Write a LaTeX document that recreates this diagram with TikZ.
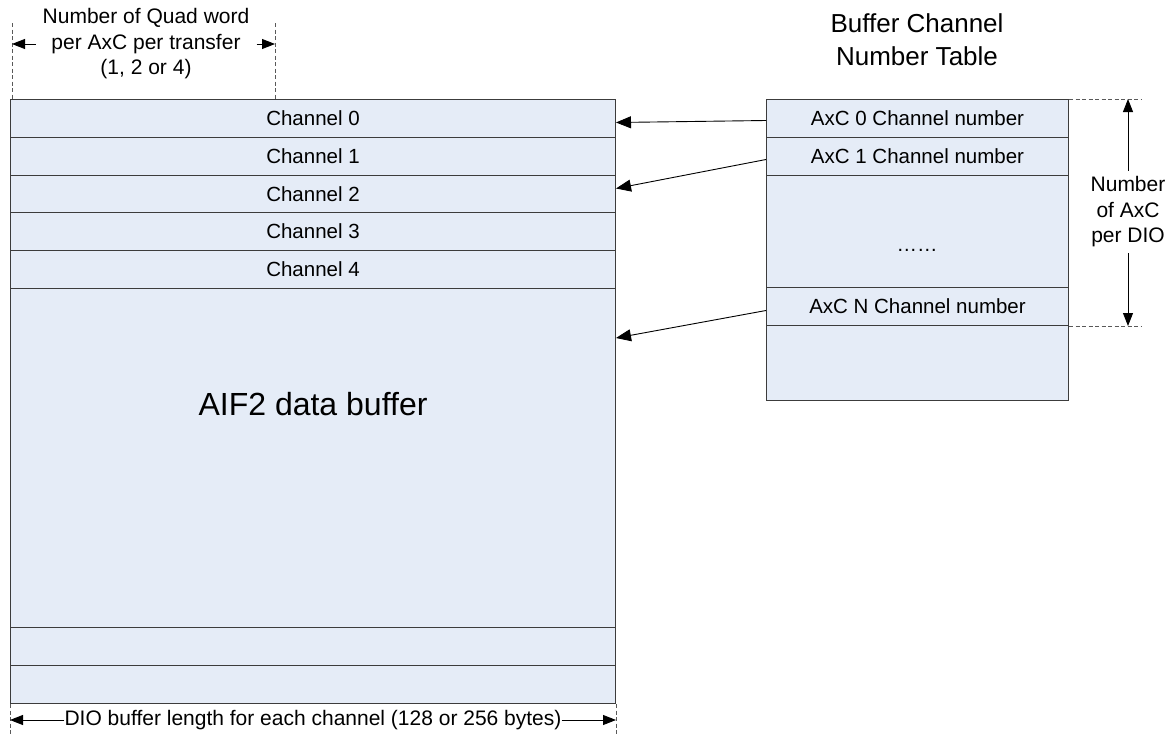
\documentclass[tikz,border=0pt]{standalone}
\usepackage{fontspec}
\setmainfont{Liberation Sans}
\usetikzlibrary{arrows.meta,calc}
\definecolor{cellfill}{RGB}{229,236,247}
\definecolor{cellline}{RGB}{60,60,60}
\begin{document}
\begin{tikzpicture}[x=1pt,y=-1pt,
  cell/.style={draw=cellline, fill=cellfill, line width=1pt, inner sep=0pt, anchor=north west,
               font=\fontsize{20.5}{24}\selectfont},
  lcell/.style={cell, minimum width=605pt},
  rcell/.style={cell, minimum width=302pt},
  conn/.style={line width=0.9pt, -{Triangle[length=15pt,width=12pt]}},
  dimarr/.style={line width=0.9pt, -{Triangle[length=13pt,width=10pt]}},
  ext/.style={draw=black!65, line width=0.8pt, dash pattern=on 4pt off 2.5pt},
  lbl/.style={font=\fontsize{21}{25.5}\selectfont, align=center, inner sep=0pt}]
\useasboundingbox (0,0) rectangle (1170,736);

% left buffer
\node[lcell, minimum height=38pt] (ch0) at (10,99) {Channel 0};
\node[lcell, minimum height=38pt] (ch1) at (10,137) {Channel 1};
\node[lcell, minimum height=37pt] (ch2) at (10,175) {Channel 2};
\node[lcell, minimum height=38pt] (ch3) at (10,212) {Channel 3};
\node[lcell, minimum height=38pt] (ch4) at (10,250) {Channel 4};
\node[lcell, minimum height=339pt] (big) at (10,288) {};
\node[lcell, minimum height=38pt] (r6) at (10,627) {};
\node[lcell, minimum height=38pt] (r7) at (10,665) {};
\node[lbl, font=\fontsize{32}{38}\selectfont] (aif) at (313,404) {AIF2 data buffer};

% right table
\node[rcell, minimum height=38pt] (a0) at (766,99) {AxC 0 Channel number};
\node[rcell, minimum height=38pt] (a1) at (766,137) {AxC 1 Channel number};
\node[rcell, minimum height=112pt] (dots) at (766,175) {};
\node[rcell, minimum height=38pt] (aN) at (766,287) {AxC N Channel number};
\node[rcell, minimum height=75pt] (rl) at (766,325) {};
\node[lbl, font=\fontsize{20.5}{24}\selectfont] (dd) at (917,250) {……};

\node[lbl, font=\fontsize{26}{33}\selectfont] (title) at (917,40) {Buffer Channel\\Number Table};

% connectors
\draw[conn] ([yshift=-2pt]a0.west) -- ([yshift=-4pt]ch0.east);
\draw[conn] ([yshift=-3pt]a1.west) -- ([yshift=5.5pt]ch2.east);
\draw[conn] ([yshift=-4pt]aN.west) -- ([yshift=-50pt]big.north east);

% top dimension
\coordinate (tl) at (12,23);
\coordinate (tr) at (275,23);
\draw[ext] (tl) -- (tl |- ch0.north);
\draw[ext] (tr) -- (tr |- ch0.north);
\node[lbl, inner xsep=7pt] (q) at (146,44) {Number of Quad word\\per AxC per transfer\\(1, 2 or 4)};
\draw[dimarr] (q.west) -- (q.west -| tl);
\draw[dimarr] (q.east) -- (q.east -| tr);

% bottom dimension
\draw[ext] (r7.south west) -- ++(0,33);
\draw[ext] (r7.south east) -- ++(0,33);
\node[lbl] (b) at (313,720) {DIO buffer length for each channel (128 or 256 bytes)};
\draw[dimarr] (b.west) -- (b.west -| r7.south west);
\draw[dimarr] (b.east) -- (b.east -| r7.south east);

% right dimension
\coordinate (et) at (1142,99);
\coordinate (eb) at (1142,326);
\draw[ext] (a0.north east) -- (et);
\draw[ext] (aN.south east) -- (eb);
\node[lbl, inner ysep=6pt] (n) at (1128,212) {Number\\of AxC\\per DIO};
\draw[dimarr] (n.north) -- (n.north |- et);
\draw[dimarr] (n.south) -- (n.south |- eb);
\end{tikzpicture}
\end{document}
